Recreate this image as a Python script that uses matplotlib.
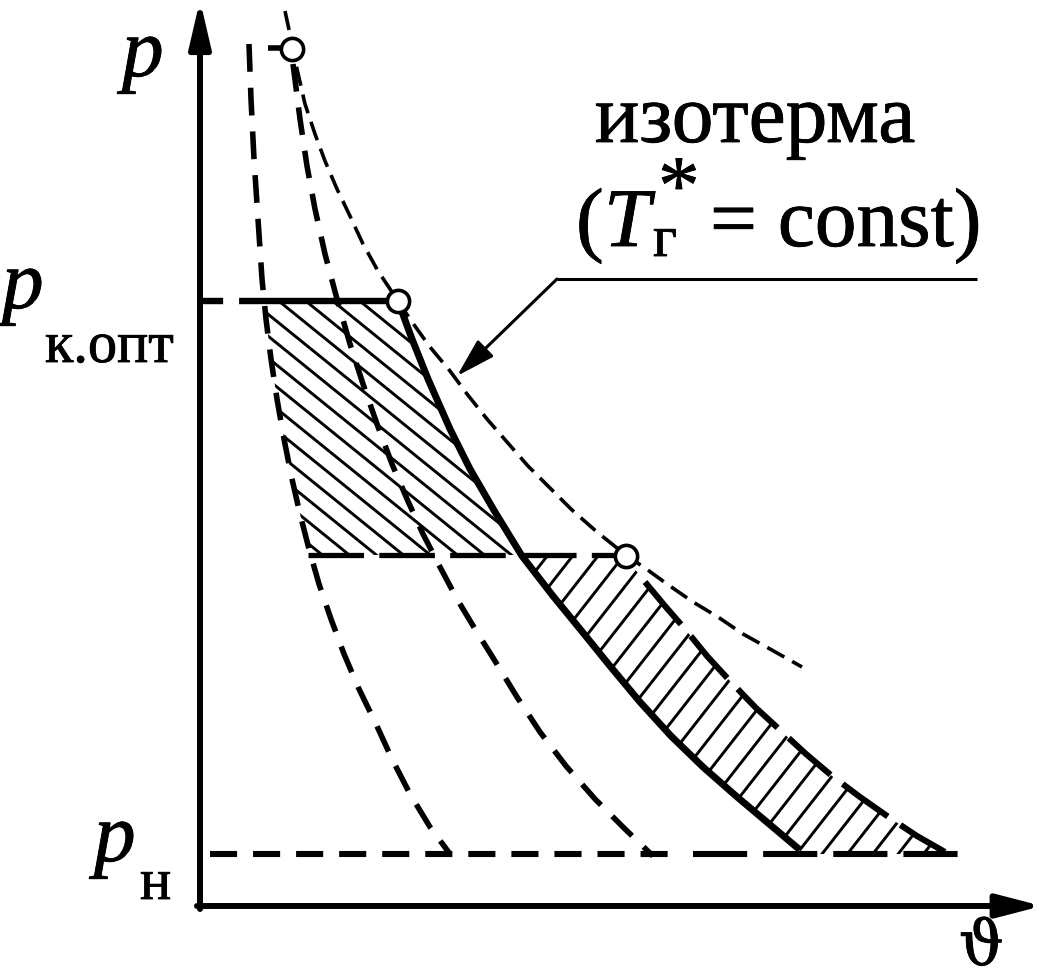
import numpy as np
import matplotlib
matplotlib.use('Agg')
import matplotlib.pyplot as plt
import matplotlib.patheffects as pe
from matplotlib.patches import Polygon

plt.rcParams['lines.scale_dashes'] = False
plt.rcParams['lines.solid_capstyle'] = 'butt'
plt.rcParams['lines.dash_capstyle'] = 'butt'

# curves, in picture pixels (x right, y down)
curve_a_x = [249, 251, 254, 258, 262, 266, 271, 277, 284, 292, 300, 309, 319, 331, 344, 359, 376, 392, 410, 430, 450]
curve_a_y = [45, 100, 160, 220, 280, 320, 360, 400, 440, 480, 515, 550, 585, 620, 655, 690, 725, 760, 795, 828, 855]

curve_b_x = [293, 300, 307, 315, 325, 337, 350, 363, 377, 392, 407, 423, 440, 457, 475, 495, 517, 540, 566, 595, 625, 653]
curve_b_y = [65, 120, 167, 210, 255, 300, 345, 385, 425, 465, 500, 535, 568, 600, 630, 662, 698, 733, 767, 800, 830, 857]

iso_x = [285, 291, 297, 305, 315, 325, 337, 350, 363, 378, 398, 412, 430, 450, 467, 487, 507, 528, 550, 572, 597, 627,
         645, 667, 693, 718, 743, 770, 802]
iso_y = [12, 40, 70, 105, 135, 162, 190, 217, 245, 272, 302, 323, 348, 372, 395, 420, 443, 467, 489, 511, 533, 557,
         569, 585, 603, 618, 635, 650, 668]

solid_x = [398, 412, 428, 450, 470, 495, 522, 553, 580, 610, 640, 671, 703, 736, 768, 800]
solid_y = [302, 340, 380, 430, 470, 513, 557, 597, 630, 667, 703, 737, 768, 797, 824, 851]

outer_x = [627, 645, 665, 685, 707, 730, 755, 780, 806, 832, 860, 890, 917, 945]
outer_y = [560, 583, 607, 630, 657, 682, 708, 731, 755, 777, 798, 819, 837, 853]

p_top, p_mid, p_low = 302, 556, 855
points_x = [292, 398, 626]
points_y = [50, 302, 557]

fig = plt.figure(figsize=(10.44, 9.79), dpi=100)
ax = fig.add_axes([0, 0, 1, 1])
ax.set_xlim(0, 1044)
ax.set_ylim(979, 0)
ax.axis('off')

K = 'black'


def hatch(xy, angle, spacing, through, lw=2.1):
    patch = Polygon(xy, closed=True, fill=False, edgecolor='none')
    ax.add_patch(patch)
    a = np.deg2rad(angle)
    d = np.array([np.cos(a), np.sin(a)])
    n = np.array([-d[1], d[0]])
    for k in range(-60, 61):
        c = np.array(through) + k * spacing * n
        p0 = c - 1500 * d
        p1 = c + 1500 * d
        ln, = ax.plot([p0[0], p1[0]], [p0[1], p1[1]], color=K, lw=lw)
        ln.set_clip_path(patch)


def part(xs, ys, y0, y1):
    xs = np.array(xs, float)
    ys = np.array(ys, float)
    m = (ys > y0) & (ys < y1)
    px = [np.interp(y0, ys, xs)] + list(xs[m]) + [np.interp(y1, ys, xs)]
    py = [y0] + list(ys[m]) + [y1]
    return list(zip(px, py))


# upper hatched area
left = part(curve_a_x, curve_a_y, p_top, p_mid)
right = part(solid_x, solid_y, p_top, p_mid)
upper = left[:1] + right + left[::-1][:-1]
hatch(upper, 39, 17, (280, 303))

# lower hatched area
lower_d = part(solid_x, solid_y, p_mid, solid_y[-1])
lower_o = list(zip(outer_x, outer_y))
lower = lower_d + [(solid_x[-1], p_low), (outer_x[-1], p_low)] + lower_o[::-1] + [(points_x[2], p_mid)]
hatch(lower, -52, 20, (822, 855))

# curves
ax.plot(curve_a_x, curve_a_y, color=K, lw=4.0, linestyle=(0, (20, 11.5)))
ax.plot(curve_b_x, curve_b_y, color=K, lw=4.0, linestyle=(0, (20, 11.5)))
ax.plot(iso_x, iso_y, color=K, lw=2.6, linestyle=(0, (14, 6.5)))
ax.plot(solid_x, solid_y, color=K, lw=5.0)
ax.plot(outer_x[1:], outer_y[1:], color=K, lw=4.4, linestyle=(0, (40, 11)))

# pressure levels
ax.plot([203, 388], [p_top, p_top], color=K, lw=4.6, linestyle=(0, (14.5, 11.5, 200, 1)))
ax.plot([308, 617], [p_mid, p_mid], color=K, lw=3.8, linestyle=(0, (40, 11)))
ax.plot([210, 680], [p_low, p_low], color=K, lw=4.4, linestyle=(0, (19.5, 11.5)))
ax.plot([693, 958], [p_low, p_low], color=K, lw=4.4, linestyle=(0, (39, 11.5)))
ax.plot([268, 283], [49, 49], color=K, lw=4.0)

ax.plot(points_x, points_y, 'o', ms=16, mfc='white', mec=K, mew=2.6, zorder=10)

# axes with arrows
ax.annotate('', xy=(200, 1), xytext=(200, 910),
            arrowprops=dict(arrowstyle='-|>,head_length=28,head_width=6.5', mutation_scale=1,
                            lw=4.3, color=K, shrinkA=0, shrinkB=0))
ax.annotate('', xy=(1042, 907), xytext=(197, 907),
            arrowprops=dict(arrowstyle='-|>,head_length=27,head_width=7', mutation_scale=1,
                            lw=4.3, color=K, shrinkA=0, shrinkB=0))

# leader
ax.plot([977, 557], [280, 280], color=K, lw=2.2)
ax.annotate('', xy=(457, 377), xytext=(557, 280),
            arrowprops=dict(arrowstyle='-|>,head_length=24,head_width=7', mutation_scale=1,
                            lw=2.2, color=K, shrinkA=0, shrinkB=0))

serif = ['Liberation Serif', 'DejaVu Serif']
big = 60
small = 42
fx = [pe.withStroke(linewidth=0.6, foreground=K)]


def label(x, y, s, size, **kw):
    kw.setdefault('family', serif)
    ax.text(x, y, s, fontsize=size, va='baseline', path_effects=fx, **kw)


label(122, 77, 'p', big, style='italic')
label(2, 309, 'p', big, style='italic')
label(45, 363, 'к.опт', small)
label(94, 862, 'p', big, style='italic')
label(140, 900, 'н', small)
label(959, 966, 'ϑ', 45, family=['DejaVu Serif'])

label(755, 143, 'изотерма', big, ha='center')
label(576, 247, '(', big)
label(604, 247, 'T', big, style='italic')
label(653, 257, 'г', small)
label(658, 214, '*', big)
label(710, 247, '= const)', big)

fig.savefig('out.png', dpi=100)
